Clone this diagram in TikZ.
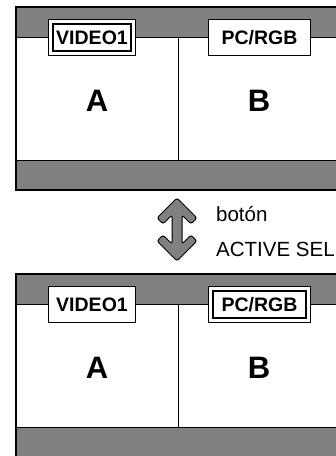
\documentclass[tikz,border=0pt]{standalone}
\usepackage{fontspec}
\setmainfont{Liberation Sans}
\usetikzlibrary{positioning}

\begin{document}
\begin{tikzpicture}[x=1pt, y=-1pt,
  labbox/.style={draw, line width=0.9pt, fill=white, minimum height=36pt,
                 inner sep=0pt, font=\fontsize{19.5}{21}\selectfont\bfseries},
  selbox/.style={labbox, path picture={\draw[line width=2.6pt]
      ([shift={(4.4pt,-4.4pt)}]path picture bounding box.north west) rectangle
      ([shift={(-4.4pt,4.4pt)}]path picture bounding box.south east);}},
  big/.style={font=\fontsize{31}{34}\selectfont\bfseries},
  hint/.style={anchor=base west, inner sep=0pt, font=\fontsize{20.5}{23}\selectfont}]
  \useasboundingbox (0,0) rectangle (336,456);
  \clip (0,0) rectangle (336,456);
  % two screens, the selected window moves from A to B
  \foreach \oy/\sa/\sb/\n in {0/selbox/labbox/1, 267/labbox/selbox/2} {
    \fill[black!50] (16,\oy+7) rectangle (345,\oy+37);
    \fill[black!50] (16,\oy+160) rectangle (345,\oy+190);
    \draw[line width=0.8pt] (16,\oy+37) -- (345,\oy+37);
    \draw[line width=0.8pt] (16,\oy+160) -- (345,\oy+160);
    \draw[line width=0.8pt] (178,\oy+37) -- (178,\oy+160);
    \draw[line width=2pt] (16,\oy+7) rectangle (345,\oy+190);
    \node[\sa, minimum width=87pt] (vid\n) at (92,\oy+37.5) {VIDEO1};
    \node[\sb, minimum width=102pt] (pc\n) at (259.5,\oy+37.5) {PC/RGB};
    \node[big] (wa\n) at (97,\oy+101) {A};
    \node[big] (wb\n) at (259,\oy+101) {B};
  }
  \draw[fill=black!50, line width=1pt, rounded corners=2.5pt]
    (177,198) -- (157,218) -- (163,224) -- (172,215) -- (172,244) -- (163,235)
    -- (157,241) -- (177,261) -- (197,241) -- (191,235) -- (182,244) -- (182,215)
    -- (191,224) -- (197,218) -- cycle;
  \node[hint] (btn) at (216,221.5) {botón};
  \node[hint] (act) at (216,256) {ACTIVE SEL};
\end{tikzpicture}
\end{document}
